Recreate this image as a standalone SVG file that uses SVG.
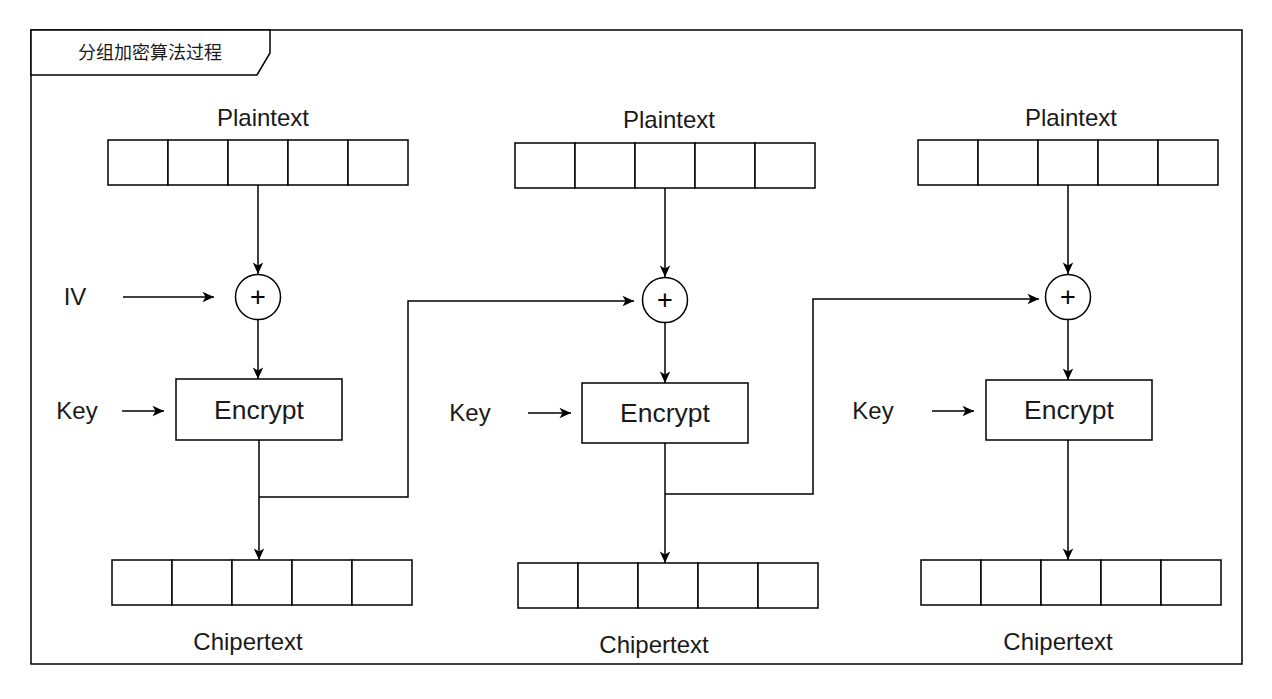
<svg xmlns="http://www.w3.org/2000/svg" width="1272" height="699" viewBox="0 0 1272 699">
<defs>
<style>
.s{fill:#fff;stroke:#000;stroke-width:1.5}
.c{fill:none;stroke:#000;stroke-width:1.5}
.t{font-family:"Liberation Sans",Arial,sans-serif;font-size:24px;fill:#1a1a1a;text-anchor:middle}
.p{font-family:"Liberation Sans",Arial,sans-serif;font-size:27px;fill:#000;text-anchor:middle}
.e{font-family:"Liberation Sans",Arial,sans-serif;font-size:26.5px;fill:#1a1a1a;text-anchor:middle}
.cj{font-family:"Liberation Sans","Noto Sans CJK SC",sans-serif;font-size:18px;fill:#1a1a1a;text-anchor:middle}
</style>
<marker id="a" markerUnits="userSpaceOnUse" markerWidth="14" markerHeight="14" viewBox="0 0 14 14" refX="13" refY="7" orient="auto">
<path d="M1.5,1.8 L13,7 L1.5,12.2 L4.5,7 Z" fill="#000"/>
</marker>
<g id="cells5">
<rect class="s" x="0" y="0" width="60" height="45"/>
<rect class="s" x="60" y="0" width="60" height="45"/>
<rect class="s" x="120" y="0" width="60" height="45"/>
<rect class="s" x="180" y="0" width="60" height="45"/>
<rect class="s" x="240" y="0" width="60" height="45"/>
</g>
</defs>
<rect width="1272" height="699" fill="#fff"/>
<g id="frame">
<rect class="c" x="31" y="30" width="1211" height="634"/>
<path class="s" d="M31,30 H270 V53 L257,75 H31 Z"/>
<text class="cj" x="150" y="59">分组加密算法过程</text>
</g>

<g id="connectors">
<path class="c" d="M258,185 V274" marker-end="url(#a)"/>
<path class="c" d="M123,297 H214" marker-end="url(#a)"/>
<path class="c" d="M258,319 V379" marker-end="url(#a)"/>
<path class="c" d="M122,411 H164" marker-end="url(#a)"/>
<path class="c" d="M259,440 V560" marker-end="url(#a)"/>
<path class="c" d="M259,497 H408 V301 H634" marker-end="url(#a)"/>
<path class="c" d="M665,188 V277" marker-end="url(#a)"/>
<path class="c" d="M665,323 V383" marker-end="url(#a)"/>
<path class="c" d="M528,413 H571" marker-end="url(#a)"/>
<path class="c" d="M665,443 V563" marker-end="url(#a)"/>
<path class="c" d="M665,494 H813 V299 H1039" marker-end="url(#a)"/>
<path class="c" d="M1068,185 V274" marker-end="url(#a)"/>
<path class="c" d="M1068,320 V380" marker-end="url(#a)"/>
<path class="c" d="M932,411 H974" marker-end="url(#a)"/>
<path class="c" d="M1068,440 V560" marker-end="url(#a)"/>
</g>

<g id="block1">
<g id="plain1"><text class="t" x="263" y="126">Plaintext</text><use href="#cells5" x="108" y="140"/></g>
<g id="iv"><text class="t" x="75" y="305">IV</text></g>
<g id="xor1"><circle class="s" cx="258" cy="297" r="22.5"/><text class="p" x="258" y="306">+</text></g>
<g id="key1"><text class="t" x="77" y="419">Key</text></g>
<g id="enc1"><rect class="s" x="176" y="379" width="166" height="61"/><text class="e" x="259" y="419">Encrypt</text></g>
<g id="cipher1"><use href="#cells5" x="112" y="560"/><text class="t" x="248" y="650">Chipertext</text></g>
</g>

<g id="block2">
<g id="plain2"><text class="t" x="669" y="128">Plaintext</text><use href="#cells5" x="515" y="143"/></g>
<g id="xor2"><circle class="s" cx="665" cy="300" r="22.5"/><text class="p" x="665" y="309">+</text></g>
<g id="key2"><text class="t" x="470" y="421">Key</text></g>
<g id="enc2"><rect class="s" x="582" y="383" width="166" height="60"/><text class="e" x="665" y="422">Encrypt</text></g>
<g id="cipher2"><use href="#cells5" x="518" y="563"/><text class="t" x="654" y="653">Chipertext</text></g>
</g>

<g id="block3">
<g id="plain3"><text class="t" x="1071" y="126">Plaintext</text><use href="#cells5" x="918" y="140"/></g>
<g id="xor3"><circle class="s" cx="1068" cy="297" r="22.5"/><text class="p" x="1068" y="306">+</text></g>
<g id="key3"><text class="t" x="873" y="419">Key</text></g>
<g id="enc3"><rect class="s" x="986" y="380" width="166" height="60"/><text class="e" x="1069" y="419">Encrypt</text></g>
<g id="cipher3"><use href="#cells5" x="921" y="560"/><text class="t" x="1058" y="650">Chipertext</text></g>
</g>
</svg>
